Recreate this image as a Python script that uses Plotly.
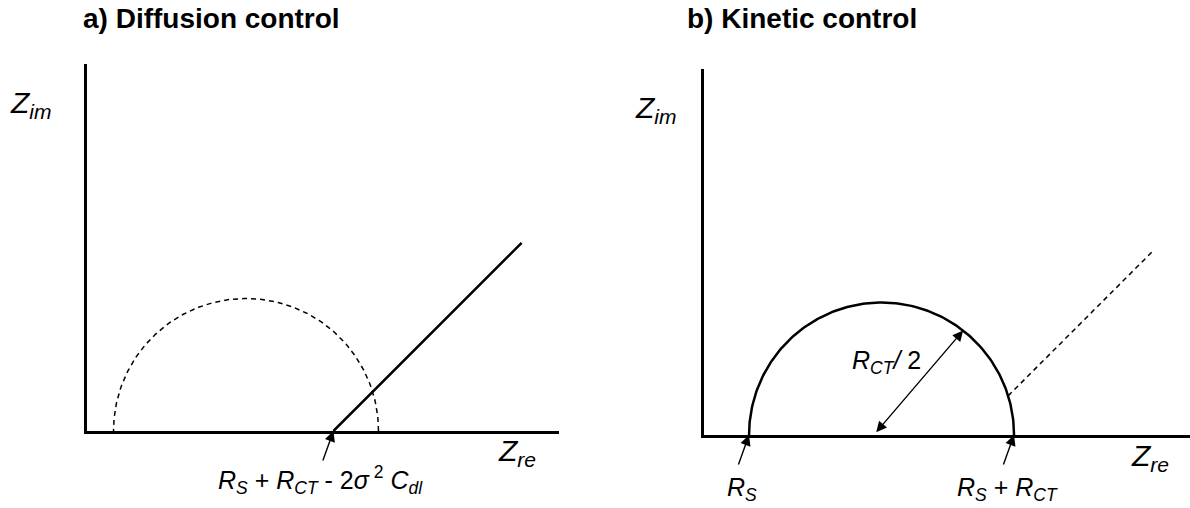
import numpy as np
import plotly.graph_objects as go

# Circuit parameters (arbitrary impedance units)
# a) diffusion control
RS_A = 1.0
RCT_A = 10.0
WARBURG_OFFSET_A = 1.7          # 2*sigma^2*Cdl
WARBURG_END_A = 16.4            # Z_re where the drawn Warburg line stops
# b) kinetic control
RS_B = 1.7
RCT_B = 10.0
WARBURG_OFFSET_B = 1.7
WARBURG_END_B = 17.0
RADIUS_ARROW_ANGLE_DEG = 52.0   # direction of the R_CT/2 radius arrow

# axis extents
XMAX_A, YMAX_A = 17.81, 13.85
XMAX_B, YMAX_B = 18.34, 13.81

W, H = 1190, 508
FONT = "Liberation Sans, Arial, sans-serif"
BLACK = "#000000"

# subplot domains (paper fractions)
XDOM_A = [87 / W, 559 / W]
YDOM_A = [(H - 431) / H, (H - 64) / H]
XDOM_B = [704 / W, 1.0]
YDOM_B = [(H - 435) / H, (H - 69) / H]


def to_paper(x, y, xdom, ydom, xmax, ymax):
    """Map data coordinates of a panel to paper fractions (works outside the axis range)."""
    px = xdom[0] + (xdom[1] - xdom[0]) * x / xmax
    py = ydom[0] + (ydom[1] - ydom[0]) * y / ymax
    return px, py


def pa(x, y):
    return to_paper(x, y, XDOM_A, YDOM_A, XMAX_A, YMAX_A)


def pb(x, y):
    return to_paper(x, y, XDOM_B, YDOM_B, XMAX_B, YMAX_B)


def semicircle(rs, rct, n=181):
    th = np.linspace(0, np.pi, n)
    c, r = rs + rct / 2.0, rct / 2.0
    return c + r * np.cos(th), r * np.sin(th)


def warburg_start_on_circle(rs, rct, offset):
    # intersection of Z_im = Z_re - (rs + rct - offset) with the semicircle (right branch)
    c, r = rs + rct / 2.0, rct / 2.0
    k = rs + rct - offset
    a, b, cc = 2.0, -2.0 * (c + k), c * c + k * k - r * r
    x = (-b + np.sqrt(b * b - 4 * a * cc)) / (2 * a)
    return x, x - k


fig = go.Figure()

# ---- panel a ----
xa, ya = semicircle(RS_A, RCT_A)
fig.add_trace(go.Scatter(x=xa, y=ya, mode="lines", xaxis="x", yaxis="y",
                         line=dict(color=BLACK, width=1.5, dash="5px,4px")))
w0 = RS_A + RCT_A - WARBURG_OFFSET_A
fig.add_trace(go.Scatter(x=[w0, WARBURG_END_A], y=[0, WARBURG_END_A - w0], mode="lines",
                         xaxis="x", yaxis="y", line=dict(color=BLACK, width=2.5)))

# ---- panel b ----
xb, yb = semicircle(RS_B, RCT_B)
fig.add_trace(go.Scatter(x=xb, y=yb, mode="lines", xaxis="x2", yaxis="y2",
                         line=dict(color=BLACK, width=2.5)))
sx, sy = warburg_start_on_circle(RS_B, RCT_B, WARBURG_OFFSET_B)
k_b = RS_B + RCT_B - WARBURG_OFFSET_B
fig.add_trace(go.Scatter(x=[sx, WARBURG_END_B], y=[sy, WARBURG_END_B - k_b], mode="lines",
                         xaxis="x2", yaxis="y2",
                         line=dict(color=BLACK, width=1.5, dash="5px,4px")))

axis_common = dict(showline=True, linewidth=2.5, linecolor=BLACK, showgrid=False,
                   zeroline=False, showticklabels=False, ticks="", fixedrange=True)

fig.update_layout(
    width=W, height=H, margin=dict(l=0, r=0, t=0, b=0),
    paper_bgcolor="white", plot_bgcolor="white", showlegend=False,
    xaxis=dict(domain=XDOM_A, range=[0, XMAX_A], anchor="y", **axis_common),
    yaxis=dict(domain=YDOM_A, range=[0, YMAX_A], anchor="x", **axis_common),
    xaxis2=dict(domain=XDOM_B, range=[0, XMAX_B], anchor="y2", **axis_common),
    yaxis2=dict(domain=YDOM_B, range=[0, YMAX_B], anchor="x2", **axis_common),
    font=dict(family=FONT, color=BLACK),
)

ann = []


def label(text, pos, size, xanchor="center", yanchor="middle"):
    ann.append(dict(text=text, x=pos[0], y=pos[1], xref="paper", yref="paper",
                    xanchor=xanchor, yanchor=yanchor, showarrow=False,
                    font=dict(size=size, family=FONT, color=BLACK)))


def arrow(tip, tail, ax_id, both=False):
    xr, yr = ("x", "y") if ax_id == 1 else ("x2", "y2")
    d = dict(x=tip[0], y=tip[1], ax=tail[0], ay=tail[1], xref=xr, yref=yr,
             axref=xr, ayref=yr, text="", showarrow=True, arrowhead=2,
             arrowsize=1.5, arrowwidth=1.4, arrowcolor=BLACK)
    if both:
        d.update(arrowside="end+start", startarrowhead=2, startarrowsize=1.5)
    ann.append(d)


# titles
label("<b>a) Diffusion control</b>", (211 / W, (H - 18) / H), 28)
label("<b>b) Kinetic control</b>", (802 / W, (H - 18) / H), 28)

# axis labels
zim = "<i>Z</i><sub><i>im</i></sub>"
zre = "<i>Z</i><sub><i>re</i></sub>"
label(zim, (8 / W, (H - 105) / H), 30, xanchor="left")
label(zim, (633 / W, (H - 110) / H), 30, xanchor="left")
label(zre, pa(15.45, -0.8), 30, xanchor="left")
label(zre, pb(16.05, -0.85), 30, xanchor="left")

# panel a: intercept arrow + label
arrow((w0, 0), (w0 - 0.42, -1.17), 1)
label("<i>R</i><sub><i>S</i></sub> + <i>R</i><sub><i>CT</i></sub> - 2<i>σ</i><sup> 2</sup> <i>C</i><sub><i>dl</i></sub>",
      pa(w0 - 0.5, -1.85), 25)

# panel b: R_S and R_S + R_CT arrows + labels
for xv, lab in [(RS_B, "<i>R</i><sub><i>S</i></sub>"),
                (RS_B + RCT_B, "<i>R</i><sub><i>S</i></sub> + <i>R</i><sub><i>CT</i></sub>")]:
    arrow((xv, 0), (xv - 0.42, -1.17), 2)
    label(lab, pb(xv - 0.25, -2.05), 25)

# panel b: radius arrow (double headed)
cb, rb = RS_B + RCT_B / 2.0, RCT_B / 2.0
th = np.deg2rad(RADIUS_ARROW_ANGLE_DEG)
arrow((cb + rb * np.cos(th), rb * np.sin(th)), (cb - 0.25, 0.05), 2, both=True)
label("<i>R</i><sub><i>CT</i></sub><i>/</i> 2", pb(cb + 0.2, 2.75), 25)

fig.update_layout(annotations=ann)

fig.write_html("out.html")
